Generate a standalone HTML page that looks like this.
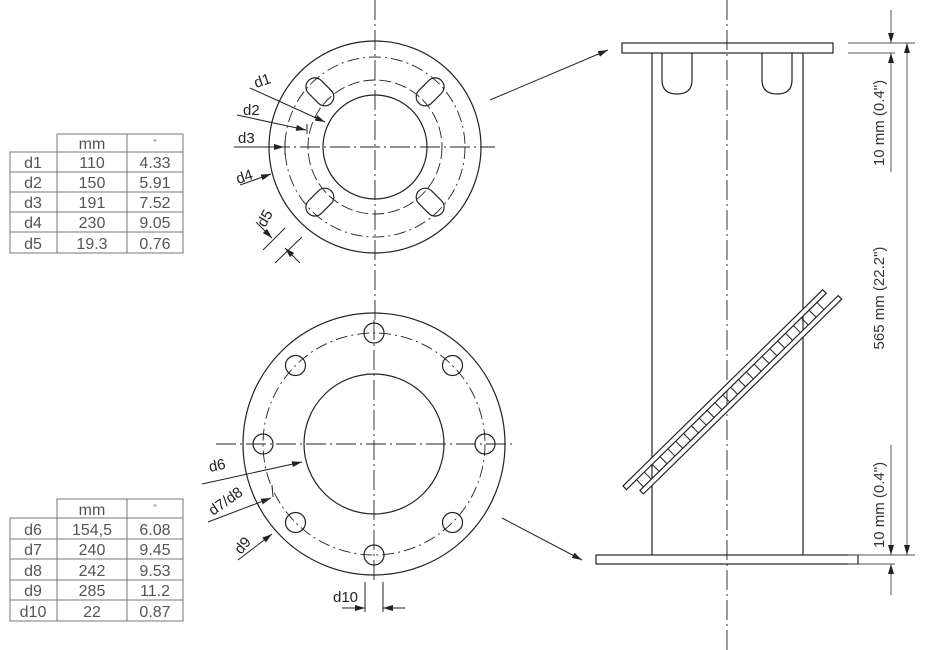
<!DOCTYPE html>
<html><head><style>
html,body{margin:0;padding:0;background:#fff;}
svg{display:block;}
text{font-family:"Liberation Sans",sans-serif;}
</style></head><body>
<svg width="941" height="650" viewBox="0 0 941 650" xmlns="http://www.w3.org/2000/svg">
<defs>
<marker id="a" viewBox="0 0 10 6" refX="10" refY="3" markerWidth="10" markerHeight="6" orient="auto" markerUnits="userSpaceOnUse"><path d="M0,0 L10,3 L0,6 z" fill="#222"/></marker>
</defs>
<!-- Table 1 -->
<g stroke="#777" stroke-width="1" fill="none">
<rect x="57" y="134" width="126" height="18"/><line x1="127" y1="134" x2="127" y2="253"/>
<rect x="10" y="152" width="173" height="101"/><line x1="57" y1="152" x2="57" y2="253"/>
<line x1="10" y1="172" x2="183" y2="172"/><line x1="10" y1="192" x2="183" y2="192"/>
<line x1="10" y1="212" x2="183" y2="212"/><line x1="10" y1="232" x2="183" y2="232"/>
</g>
<g fill="#555" font-size="16" text-anchor="middle">
<text x="92" y="149">mm</text><text x="155" y="146" font-size="9">"</text>
<text x="33" y="168">d1</text><text x="92" y="168">110</text><text x="155" y="168">4.33</text>
<text x="33" y="188">d2</text><text x="92" y="188">150</text><text x="155" y="188">5.91</text>
<text x="33" y="208">d3</text><text x="92" y="208">191</text><text x="155" y="208">7.52</text>
<text x="33" y="228">d4</text><text x="92" y="228">230</text><text x="155" y="228">9.05</text>
<text x="33" y="249">d5</text><text x="92" y="249">19.3</text><text x="155" y="249">0.76</text>
</g>
<!-- Table 2 -->
<g stroke="#777" stroke-width="1" fill="none">
<rect x="57" y="499" width="126" height="19"/><line x1="127" y1="499" x2="127" y2="621"/>
<rect x="10" y="518" width="173" height="103"/><line x1="57" y1="518" x2="57" y2="621"/>
<line x1="10" y1="539" x2="183" y2="539"/><line x1="10" y1="559" x2="183" y2="559"/>
<line x1="10" y1="580" x2="183" y2="580"/><line x1="10" y1="600" x2="183" y2="600"/>
</g>
<g fill="#555" font-size="16" text-anchor="middle">
<text x="92" y="515">mm</text><text x="155" y="511" font-size="9">"</text>
<text x="33" y="535">d6</text><text x="92" y="535">154,5</text><text x="155" y="535">6.08</text>
<text x="33" y="555">d7</text><text x="92" y="555">240</text><text x="155" y="555">9.45</text>
<text x="33" y="576">d8</text><text x="92" y="576">242</text><text x="155" y="576">9.53</text>
<text x="33" y="596">d9</text><text x="92" y="596">285</text><text x="155" y="596">11.2</text>
<text x="33" y="617">d10</text><text x="92" y="617">22</text><text x="155" y="617">0.87</text>
</g>

<!-- Top flange -->
<g stroke="#222" fill="none" stroke-width="1.2">
<circle cx="375" cy="147" r="106"/>
<circle cx="375" cy="147" r="52"/>
<circle cx="375" cy="147" r="90" stroke-dasharray="12,4,2,4" stroke-width="0.9"/>
<circle cx="375" cy="147" r="67" stroke-dasharray="12,4" stroke-width="0.9"/>
<g transform="translate(375,147)">
<rect x="-9" y="-94" width="18" height="32" rx="9" transform="rotate(-45)"/>
<rect x="-9" y="-94" width="18" height="32" rx="9" transform="rotate(45)"/>
<rect x="-9" y="-94" width="18" height="32" rx="9" transform="rotate(135)"/>
<rect x="-9" y="-94" width="18" height="32" rx="9" transform="rotate(-135)"/>
</g>
<line x1="375" y1="0" x2="375" y2="320" stroke-dasharray="20,4,2,4" stroke-width="0.9"/>
<line x1="270" y1="147" x2="495" y2="147" stroke-dasharray="20,4,2,4" stroke-width="0.9"/>
</g>
<g stroke="#222" stroke-width="1" fill="none">
<line x1="250" y1="88" x2="325" y2="122" marker-end="url(#a)"/>
<line x1="237" y1="115" x2="306" y2="130" marker-end="url(#a)"/>
<line x1="307" y1="124" x2="307" y2="134"/>
<line x1="234" y1="147" x2="284" y2="147" marker-end="url(#a)"/>
<line x1="285" y1="141" x2="285" y2="155"/>
<line x1="240" y1="185" x2="271" y2="174" marker-end="url(#a)"/>
<line x1="256" y1="222" x2="272" y2="238" marker-end="url(#a)"/>
<line x1="300" y1="263" x2="285" y2="248" marker-end="url(#a)"/>
<line x1="263" y1="250" x2="285" y2="228"/>
<line x1="275" y1="263" x2="302" y2="237"/>
</g>
<g fill="#222" font-size="15">
<text x="256" y="88" transform="rotate(-18 256 88)">d1</text>
<text x="243" y="115">d2</text>
<text x="238" y="143">d3</text>
<text x="238" y="184" transform="rotate(-18 238 184)">d4</text>
<text x="265" y="228" transform="rotate(-60 265 228)">d5</text>
</g>

<!-- Bottom flange -->
<g stroke="#222" fill="none" stroke-width="1.2">
<circle cx="374" cy="444" r="131"/>
<circle cx="374" cy="444" r="70"/>
<circle cx="374" cy="444" r="111" stroke-dasharray="12,4,2,4" stroke-width="0.9"/>
<g transform="translate(374,444)">
<circle cx="0" cy="-111" r="10"/><circle cx="0" cy="111" r="10"/>
<circle cx="-111" cy="0" r="10"/><circle cx="111" cy="0" r="10"/>
<circle cx="78.5" cy="78.5" r="10"/><circle cx="-78.5" cy="78.5" r="10"/>
<circle cx="78.5" cy="-78.5" r="10"/><circle cx="-78.5" cy="-78.5" r="10"/>
</g>
<line x1="374" y1="320" x2="374" y2="580" stroke-dasharray="20,4,2,4" stroke-width="0.9"/>
<line x1="216" y1="444" x2="512" y2="444" stroke-dasharray="20,4,2,4" stroke-width="0.9"/>
</g>
<g stroke="#222" stroke-width="1" fill="none">
<line x1="202" y1="484" x2="302" y2="462" marker-end="url(#a)"/>
<line x1="208" y1="522" x2="271" y2="498" marker-end="url(#a)"/>
<line x1="272" y1="485" x2="273" y2="497"/>
<line x1="238" y1="560" x2="272" y2="534" marker-end="url(#a)"/>
<line x1="365" y1="582" x2="365" y2="612"/>
<line x1="383" y1="582" x2="383" y2="612"/>
<line x1="342" y1="608" x2="365" y2="608" marker-end="url(#a)"/>
<line x1="405" y1="608" x2="383" y2="608" marker-end="url(#a)"/>
</g>
<g fill="#222" font-size="15">
<text x="210" y="472" transform="rotate(-12 210 472)">d6</text>
<text x="213" y="516" transform="rotate(-35 213 516)">d7/d8</text>
<text x="241" y="555" transform="rotate(-50 241 555)">d9</text>
<text x="333" y="602">d10</text>
</g>

<!-- arrows to side view -->
<g stroke="#222" stroke-width="1">
<line x1="490" y1="100" x2="608" y2="50" marker-end="url(#a)"/>
<line x1="502" y1="518" x2="582" y2="560" marker-end="url(#a)"/>
</g>

<!-- Side view -->
<g stroke="#222" fill="none" stroke-width="1.2">
<rect x="622" y="43" width="211" height="10" fill="#fff"/>
<rect x="596" y="555" width="262" height="9" fill="#fff"/>
<line x1="652" y1="53" x2="652" y2="555"/>
<line x1="803" y1="53" x2="803" y2="555"/>
<path d="M662,53 V80 Q662,94 677,94 Q692,94 692,80 V53"/>
<path d="M762,53 V80 Q762,94 777,94 Q792,94 792,80 V53"/>
<line x1="727" y1="0" x2="727" y2="650" stroke-dasharray="20,4,2,4" stroke-width="0.9"/>
<g transform="translate(623,486) rotate(-44.5)" fill="#fff">
<rect x="0" y="0" width="280" height="5"/>
<rect x="9" y="15" width="278" height="5"/>
<g stroke-width="1">
<path d="M14,5V15 M25,5V15 M36,5V15 M47,5V15 M58,5V15 M69,5V15 M80,5V15 M91,5V15 M102,5V15 M113,5V15 M124,5V15 M135,5V15 M146,5V15 M157,5V15 M168,5V15 M179,5V15 M190,5V15 M201,5V15 M212,5V15 M223,5V15 M234,5V15 M245,5V15 M256,5V15 M267,5V15"/>
</g>
</g>
</g>
<!-- dims -->
<g stroke="#555" stroke-width="1" fill="none">
<line x1="848" y1="43" x2="915" y2="43"/>
<line x1="848" y1="53" x2="895" y2="53"/>
<line x1="848" y1="555" x2="915" y2="555"/>
<line x1="848" y1="564" x2="895" y2="564"/>
<line x1="891" y1="10" x2="891" y2="43" marker-end="url(#a)"/>
<line x1="891" y1="172" x2="891" y2="53" marker-end="url(#a)"/>
<line x1="891" y1="445" x2="891" y2="555" marker-end="url(#a)"/>
<line x1="891" y1="595" x2="891" y2="564" marker-end="url(#a)"/>
<line x1="907" y1="300" x2="907" y2="43" marker-end="url(#a)"/>
<line x1="907" y1="300" x2="907" y2="555" marker-end="url(#a)"/>
</g>
<g fill="#333" font-size="15" text-anchor="middle">
<text transform="translate(884,123) rotate(-90)">10 mm (0.4")</text>
<text transform="translate(884,298) rotate(-90)">565 mm (22.2")</text>
<text transform="translate(884,505) rotate(-90)">10 mm (0.4")</text>
</g>
</svg>
</body></html>
